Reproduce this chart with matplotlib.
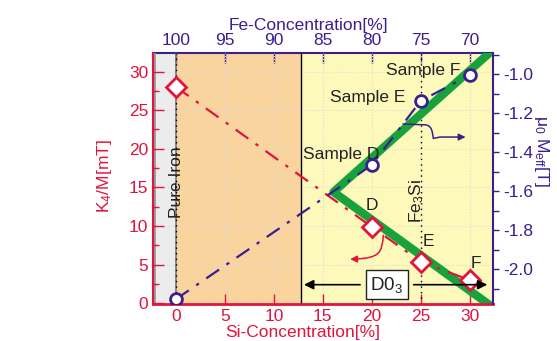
import matplotlib
matplotlib.use("Agg")
import matplotlib.pyplot as plt
from matplotlib.path import Path
from matplotlib.patches import FancyArrowPatch
from matplotlib.ticker import MultipleLocator, FormatStrFormatter

plt.rcParams['font.family'] = ['Liberation Sans', 'DejaVu Sans']
plt.rcParams['font.size'] = 12.5
plt.rcParams['mathtext.fontset'] = 'custom'
plt.rcParams['mathtext.rm'] = 'Liberation Sans'
plt.rcParams['mathtext.it'] = 'Liberation Sans'

# measured samples (Si content in %)
si = [0, 20, 25, 30]
k4m = [28.0, 9.9, 5.4, 3.0]            # K4/M [mT]
meff = [-2.154, -1.467, -1.138, -1.005]  # mu0 Meff [T]

# green guide line (V shape) in K4/M units
guide_x = [33.0, 16.1, 33.0]
guide_y = [33.5, 14.4, -1.1]

# phase regions along Si axis
pure_fe = 0.0
d03_start = 12.8
fe3si = 25.0

RED = '#e0143c'
BLUE = '#3b1f8f'
GREEN = '#17a23c'
TXT = '#222222'

fig = plt.figure(figsize=(5.57, 3.41), dpi=100)
ax = fig.add_axes([0.2747, 0.1085, 0.6104, 0.7361])
ax.set_xlim(-2.35, 32.4)
ax.set_ylim(-0.1, 32.4)

# background regions
ax.axvspan(-2.35, pure_fe, color='#ececec', zorder=0, lw=0)
ax.axvspan(pure_fe, d03_start, color='#f9d49f', zorder=0, lw=0)
ax.axvspan(d03_start, 32.4, color='#fdf9bb', zorder=0, lw=0)
ax.axvline(-2.2, color='#999999', lw=2, zorder=0.5)
ax.axvline(pure_fe, color='#777777', lw=1.2, zorder=0.6)
ax.axvline(pure_fe, color='k', lw=1.0, ls=(0, (1, 3)), zorder=0.7)
ax.axvline(d03_start, color='k', lw=1.0, zorder=0.7)
ax.axvline(fe3si, color='k', lw=1.0, ls=(0, (1, 3)), zorder=0.7)

ax.set_axisbelow(True)
ax.grid(True, color='#dcdcdc', ls=':', lw=0.8)

ax.plot(guide_x, guide_y, color=GREEN, lw=6, solid_capstyle='butt', zorder=2)
ax.plot(si, k4m, color=RED, lw=1.6, dashes=(7, 4, 1.5, 4), zorder=3)
ax.plot(si, k4m, 'D', ms=10, mfc='white', mec=RED, mew=2, zorder=5)

# axes styling for the left / bottom
ax.xaxis.set_major_locator(MultipleLocator(5))
ax.yaxis.set_major_locator(MultipleLocator(5))
ax.yaxis.set_minor_locator(MultipleLocator(2.5))
ax.tick_params(axis='x', direction='in', colors=RED, length=7, width=1, top=False)
ax.tick_params(axis='y', which='both', direction='in', colors=RED, width=1)
ax.tick_params(axis='y', which='major', length=8)
ax.tick_params(axis='y', which='minor', length=4)
ax.spines['left'].set_color(RED)
ax.spines['left'].set_linewidth(1.5)
ax.spines['bottom'].set_color(RED)
ax.spines['bottom'].set_linewidth(2)
ax.spines['top'].set_visible(False)
ax.spines['right'].set_visible(False)
ax.set_xlabel('Si-Concentration[%]', color=RED, labelpad=1)
ax.xaxis.set_label_coords(0.44, -0.085)
ax.set_ylabel('K$_4$/M[mT]', color=RED)
ax.yaxis.set_label_coords(-0.115, 0.51)

# Fe concentration on top
top = ax.secondary_xaxis('top', functions=(lambda x: 100 - x, lambda x: 100 - x))
top.set_xticks([100, 95, 90, 85, 80, 75, 70])
top.tick_params(direction='in', colors=BLUE, length=7, width=1)
top.spines['top'].set_color(BLUE)
top.spines['top'].set_linewidth(1.5)
top.set_xlabel('Fe-Concentration[%]', color=BLUE, labelpad=2, x=0.456)

# Meff on the right
ax2 = ax.twinx()
ax2.set_ylim(-2.179, -0.892)
ax2.plot(si, meff, color=BLUE, lw=1.6, dashes=(7, 4, 1.5, 4), zorder=3)
ax2.plot(si, meff, 'o', ms=8.5, mfc='white', mec=BLUE, mew=2, zorder=5)
ax2.yaxis.set_major_locator(MultipleLocator(0.2))
ax2.yaxis.set_minor_locator(MultipleLocator(0.1))
ax2.yaxis.set_major_formatter(FormatStrFormatter('%.1f'))
ax2.tick_params(axis='y', which='both', direction='out', colors=BLUE, length=4, width=1)
for s in ('left', 'bottom', 'top'):
    ax2.spines[s].set_visible(False)
ax2.spines['right'].set_color(BLUE)
ax2.spines['right'].set_linewidth(1.5)
ax2.set_ylabel(r'$\mu_0$ M$_{\rm eff}$[T]', color=BLUE, rotation=270)
ax2.yaxis.set_label_coords(1.17, 0.61)

# sample labels
ax2.text(16.9, -1.413, 'Sample D', ha='center', va='center', color=TXT)
ax2.text(19.6, -1.118, 'Sample E', ha='center', va='center', color=TXT)
ax2.text(25.3, -0.98, 'Sample F', ha='center', va='center', color=TXT)
ax2.text(20.0, -1.672, 'D', ha='center', va='center', color=TXT)
ax2.text(25.8, -1.856, 'E', ha='center', va='center', color=TXT)
ax2.text(30.6, -1.969, 'F', ha='center', va='center', color=TXT)
ax2.text(pure_fe, -1.555, 'Pure Iron', rotation=90, ha='center', va='center', color=TXT)
ax2.text(24.55, -1.65, 'Fe$_3$Si', rotation=90, ha='center', va='center', color=TXT)

# D0_3 range box with arrows
ax2.text(21.55, -2.08, 'D0$_3$', ha='center', va='center', fontsize=13.5, color=TXT,
         bbox=dict(boxstyle='square,pad=0.25', fc='white', ec=TXT, lw=1), zorder=6)
ax2.annotate('', xy=(d03_start, -2.08), xytext=(19.1, -2.08),
             arrowprops=dict(arrowstyle='-|>', color='k', lw=1.2, mutation_scale=14), zorder=4)
ax2.annotate('', xy=(32.1, -2.08), xytext=(24.0, -2.08),
             arrowprops=dict(arrowstyle='-|>', color='k', lw=1.2, mutation_scale=14), zorder=4)

# curved arrows pointing to the matching axis
red_path = Path([(21.2, 8.8), (21.0, 6.6), (21.0, 5.8), (17.8, 5.7)],
                [Path.MOVETO, Path.CURVE4, Path.CURVE4, Path.CURVE4])
ax.add_patch(FancyArrowPatch(path=red_path, arrowstyle='-|>', color=RED, lw=1.1,
                             mutation_scale=10, zorder=4))
blue_path = Path([(23.2, -1.256), (25.3, -1.26), (26.2, -1.258), (26.2, -1.30),
                  (26.3, -1.33), (27.0, -1.323), (29.6, -1.323)],
                 [Path.MOVETO, Path.LINETO, Path.CURVE4, Path.CURVE4, Path.CURVE4,
                  Path.LINETO, Path.LINETO])
ax2.add_patch(FancyArrowPatch(path=blue_path, arrowstyle='-|>', color=BLUE, lw=1.1,
                              mutation_scale=10, zorder=4))

plt.savefig('out.png', dpi=100)
